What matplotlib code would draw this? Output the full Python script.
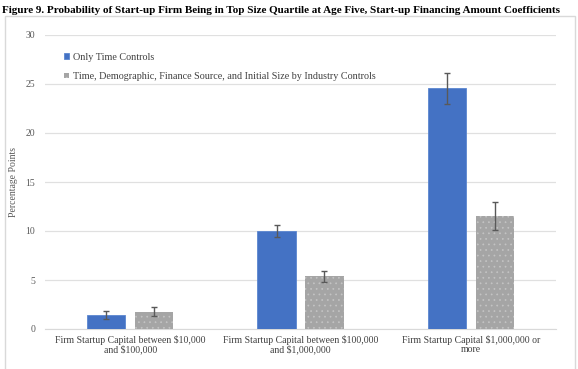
import matplotlib.pyplot as plt
import numpy as np
from matplotlib.patches import Rectangle

plt.rcParams['font.family'] = ['Liberation Serif', 'DejaVu Serif']
plt.rcParams['hatch.linewidth'] = 0.5

categories = ['Firm Startup Capital between $10,000\nand $100,000',
              'Firm Startup Capital between $100,000\nand $1,000,000',
              'Firm Startup Capital $1,000,000 or\nmore']
series_names = ['Only Time Controls',
                'Time, Demographic, Finance Source, and Initial Size by Industry Controls']
only_time = [1.4, 10.0, 24.6]
only_time_lo = [1.0, 9.4, 23.0]
only_time_hi = [1.8, 10.6, 26.1]
full_ctrl = [1.7, 5.4, 11.5]
full_ctrl_lo = [1.3, 4.8, 10.1]
full_ctrl_hi = [2.2, 5.9, 13.0]

fig = plt.figure(figsize=(5.78, 3.69), dpi=100)
# outer chart frame
fig.patches.append(Rectangle((5 / 578, -0.01), 570 / 578, 1 - 16 / 369 + 0.01,
                             transform=fig.transFigure, fill=False,
                             edgecolor='#d9d9d9', linewidth=1))
fig.text(0.003, 0.985, 'Figure 9. Probability of Start-up Firm Being in Top Size Quartile at Age Five, '
         'Start-up Financing Amount Coefficients',
         fontsize=8.0, fontweight='bold', va='top', ha='left')

ax = fig.add_axes([45 / 578, 1 - 329 / 369, 511 / 578, (329 - 35) / 369])
x = np.arange(len(categories))
w = 0.225
off = 0.14
err1 = [np.array(only_time) - np.array(only_time_lo), np.array(only_time_hi) - np.array(only_time)]
err2 = [np.array(full_ctrl) - np.array(full_ctrl_lo), np.array(full_ctrl_hi) - np.array(full_ctrl)]
ax.bar(x - off, only_time, w, color='#4472C4', edgecolor='#5b86d0', linewidth=0.6,
       label=series_names[0], zorder=3,
       yerr=err1, error_kw=dict(ecolor='#595959', elinewidth=1, capsize=2.5, capthick=1))
ax.bar(x + off, full_ctrl, w, color='#A5A5A5', edgecolor='#c4c4c4', linewidth=0,
       hatch='...', label=series_names[1], zorder=3,
       yerr=err2, error_kw=dict(ecolor='#595959', elinewidth=1, capsize=2.5, capthick=1))

ax.set_xlim(-0.5, 2.5)
ax.set_ylim(0, 30)
ax.set_yticks([0, 5, 10, 15, 20, 25, 30])
ax.grid(axis='y', color='#e0e0e0', linewidth=0.9, zorder=0)
ax.set_xticks(x)
ax.set_xticklabels(categories, fontsize=7.0, color='#404040', linespacing=1.05)
ax.tick_params(axis='y', length=0, labelsize=7.0, labelcolor='#595959', pad=7)
ax.tick_params(axis='x', length=0, pad=4)
for s in ['top', 'right', 'left']:
    ax.spines[s].set_visible(False)
ax.spines['bottom'].set_color('#d9d9d9')
ax.set_ylabel('Percentage Points', fontsize=7.0, color='#595959')
ax.yaxis.set_label_coords(-0.052, 0.5)

ax.legend(loc='upper left', bbox_to_anchor=(0.02, 0.97), frameon=False, fontsize=7.3,
          handlelength=0.5, handleheight=0.5, handletextpad=0.35, labelspacing=1.0,
          labelcolor='#404040')

fig.savefig('out.png', dpi=100)
